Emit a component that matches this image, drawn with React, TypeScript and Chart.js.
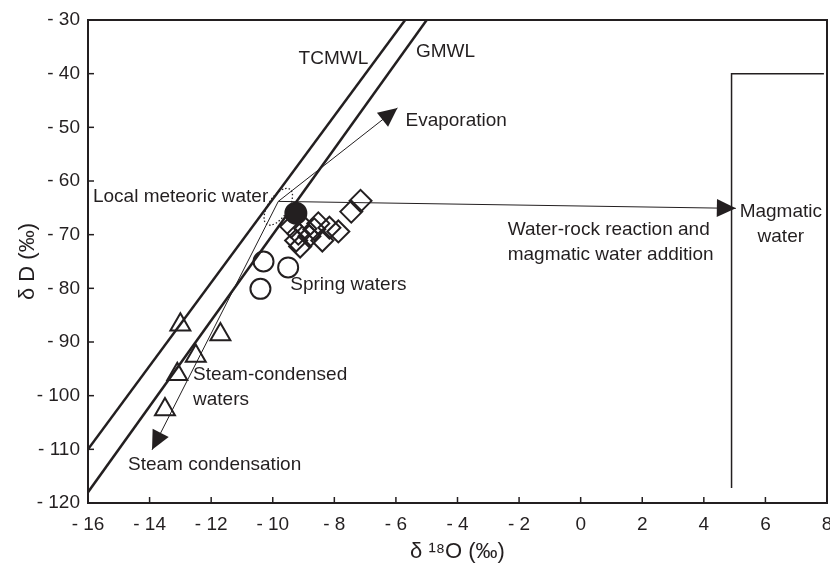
import React, { useEffect, useRef } from 'react';
import { Chart, registerables } from 'chart.js';

Chart.register(...registerables);

const INK = '#231f20';
const FONT = "'Liberation Sans', Arial, Helvetica, sans-serif";

// axis ticks
const xTickValues = [-16, -14, -12, -10, -8, -6, -4, -2, 0, 2, 4, 6, 8];
const yTickValues = [-120, -110, -100, -90, -80, -70, -60, -50, -40, -30];

// meteoric water lines (endpoints)
const tcmwlO = [-16, -5.7];
const tcmwlD = [-110, -30];
const gmwlO = [-16, -5.0];
const gmwlD = [-118, -30];

// steam-condensed waters (triangles)
const steamO = [-13.0, -11.7, -12.5, -13.1, -13.5];
const steamD = [-86.8, -88.6, -92.6, -96.0, -102.6];

// spring waters (open circles)
const springO = [-10.3, -9.5, -10.4];
const springD = [-75.0, -76.1, -80.1];

// local meteoric water (filled circle)
const localO = [-9.25];
const localD = [-66.0];

// geothermal waters (diamonds)
const geoO = [-9.4, -9.17, -9.24, -9.11, -8.81, -8.65, -8.52, -8.39, -8.16, -7.87, -7.45, -7.15, -8.94];
const geoD = [-68.5, -69.8, -71.1, -72.2, -70.3, -69.0, -67.9, -71.1, -68.7, -69.4, -65.7, -63.7, -68.9];

// magmatic water field outline
const magmaO = [4.9, 4.9, 7.9];
const magmaD = [-117.2, -40, -40];

// process arrows (start, end)
const evapO = [-9.82, -5.95];
const evapD = [-63.8, -46.4];
const condO = [-9.82, -13.92];
const condD = [-63.8, -110.1];
const wrO = [-9.82, 5.04];
const wrD = [-63.8, -65.1];

// local meteoric water field (dotted ellipse centre)
const lmwCentreO = -9.82;
const lmwCentreD = -64.8;

// text labels
const labelText = [
  ['TCMWL'],
  ['GMWL'],
  ['Evaporation'],
  ['Local meteoric water'],
  ['Spring waters'],
  ['Steam-condensed', 'waters'],
  ['Steam condensation'],
  ['Water-rock reaction and', 'magmatic water addition'],
  ['Magmatic', 'water'],
];
const labelO = [-8.03, -4.39, -5.69, -15.84, -9.43, -12.59, -14.7, -2.37, 6.5];
const labelD = [-37.3, -36.0, -48.8, -63.0, -79.4, -96.1, -112.9, -69.1, -65.8];
const labelAlign = ['center', 'center', 'left', 'left', 'left', 'left', 'left', 'left', 'center'];

const pts = (xs: number[], ys: number[]) => xs.map((x, i) => ({ x, y: ys[i] }));

const lineDs = (data: any, width: number, order = 10) => ({
  data,
  showLine: true,
  borderColor: INK,
  borderWidth: width,
  pointRadius: 0,
  pointHoverRadius: 0,
  fill: false,
  tension: 0,
  order,
});

const markerDs = (data: any, style: string, radius: number, filled = false) => ({
  data,
  showLine: false,
  pointStyle: style,
  pointRadius: radius,
  pointHoverRadius: radius,
  pointBorderColor: INK,
  pointBackgroundColor: filled ? INK : 'rgba(0,0,0,0)',
  pointBorderWidth: 2,
  borderColor: INK,
  backgroundColor: filled ? INK : 'rgba(0,0,0,0)',
  order: 1,
});

const ARROW_INDEX = [6, 7, 8];

const overlay = {
  id: 'overlay',
  afterDatasetsDraw(chart: any) {
    const { ctx, chartArea: a, scales } = chart;
    const xs = scales.x;
    const ys = scales.y;
    ctx.save();
    // frame
    ctx.strokeStyle = INK;
    ctx.lineWidth = 2;
    ctx.strokeRect(a.left, a.top, a.right - a.left, a.bottom - a.top);
    // inward ticks
    ctx.lineWidth = 1.5;
    xTickValues.forEach((v) => {
      const px = xs.getPixelForValue(v);
      ctx.beginPath();
      ctx.moveTo(px, a.bottom);
      ctx.lineTo(px, a.bottom - 6);
      ctx.stroke();
    });
    yTickValues.forEach((v) => {
      const py = ys.getPixelForValue(v);
      ctx.beginPath();
      ctx.moveTo(a.left, py);
      ctx.lineTo(a.left + 6, py);
      ctx.stroke();
    });
    // arrowheads
    ctx.fillStyle = INK;
    ARROW_INDEX.forEach((i) => {
      const meta = chart.getDatasetMeta(i);
      const p0 = meta.data[0];
      const p1 = meta.data[meta.data.length - 1];
      const ang = Math.atan2(p1.y - p0.y, p1.x - p0.x);
      const L = 19;
      const W = 9;
      const bx = p1.x - L * Math.cos(ang);
      const by = p1.y - L * Math.sin(ang);
      ctx.beginPath();
      ctx.moveTo(p1.x, p1.y);
      ctx.lineTo(bx + W * Math.sin(ang), by - W * Math.cos(ang));
      ctx.lineTo(bx - W * Math.sin(ang), by + W * Math.cos(ang));
      ctx.closePath();
      ctx.fill();
    });
    // dotted ellipse
    ctx.setLineDash([1.5, 2]);
    ctx.lineWidth = 1.3;
    ctx.beginPath();
    ctx.ellipse(xs.getPixelForValue(lmwCentreO), ys.getPixelForValue(lmwCentreD), 10, 21, 0.58, 0, Math.PI * 2);
    ctx.stroke();
    ctx.setLineDash([]);
    // labels
    ctx.font = `19px ${FONT}`;
    ctx.textBaseline = 'middle';
    labelText.forEach((lines, i) => {
      ctx.textAlign = labelAlign[i];
      const px = xs.getPixelForValue(labelO[i]);
      const py = ys.getPixelForValue(labelD[i]);
      lines.forEach((t, k) => ctx.fillText(t, px, py + k * 25));
    });
    ctx.restore();
  },
};

export default function App() {
  const ref = useRef<HTMLCanvasElement>(null);
  useEffect(() => {
    if (!ref.current) return;
    const chart = new Chart(ref.current, {
      type: 'scatter',
      data: {
        datasets: [
          markerDs(pts(localO, localD), 'circle', 10.5, true),
          markerDs(pts(geoO, geoD), 'rectRot', 11),
          markerDs(pts(springO, springD), 'circle', 10),
          markerDs(pts(steamO, steamD), 'triangle', 11.5),
          lineDs(pts(tcmwlO, tcmwlD), 2.5),
          lineDs(pts(gmwlO, gmwlD), 2.5),
          lineDs(pts(evapO, evapD), 1),
          lineDs(pts(condO, condD), 1),
          lineDs(pts(wrO, wrD), 1),
          lineDs(pts(magmaO, magmaD), 1.5),
        ] as any,
      },
      options: {
        animation: false,
        responsive: false,
        events: [],
        layout: { autoPadding: false, padding: { top: 20, right: 3, left: 0, bottom: 0 } },
        plugins: { legend: { display: false }, tooltip: { enabled: false } },
        scales: {
          x: {
            type: 'linear',
            min: -16,
            max: 8,
            afterFit: (s: any) => { s.height = 66; s.paddingLeft = 0; s.paddingRight = 0; },
            afterBuildTicks: (s: any) => { s.ticks = xTickValues.map((v) => ({ value: v })); },
            grid: { display: false, drawTicks: false },
            border: { display: false },
            ticks: {
              autoSkip: false,
              maxRotation: 0,
              padding: 10,
              color: INK,
              font: { family: FONT, size: 19 },
              callback: (v: any) => (v < 0 ? '- ' + Math.abs(v) : String(v)),
            },
            title: {
              display: true,
              text: 'δ ¹⁸O (‰)',
              color: INK,
              font: { family: FONT, size: 22 },
              padding: { top: 0, bottom: 4 },
            },
          },
          y: {
            type: 'linear',
            min: -120,
            max: -30,
            afterFit: (s: any) => { s.width = 88; s.paddingTop = 0; s.paddingBottom = 0; },
            afterBuildTicks: (s: any) => { s.ticks = yTickValues.map((v) => ({ value: v })); },
            grid: { display: false, drawTicks: false },
            border: { display: false },
            ticks: {
              autoSkip: false,
              padding: 8,
              color: INK,
              font: { family: FONT, size: 19 },
              callback: (v: any) => (v < 0 ? '- ' + Math.abs(v) : String(v)),
            },
            title: {
              display: true,
              text: 'δ D (‰)',
              color: INK,
              font: { family: FONT, size: 22 },
              padding: { top: 15, bottom: 0 },
            },
          },
        },
      } as any,
      plugins: [overlay],
    });
    return () => chart.destroy();
  }, []);
  return (
    <div style={{ position: 'absolute', left: 0, top: 0, width: 830, height: 569, background: '#fff' }}>
      <canvas ref={ref} width={830} height={569} style={{ width: 830, height: 569 }} />
    </div>
  );
}
